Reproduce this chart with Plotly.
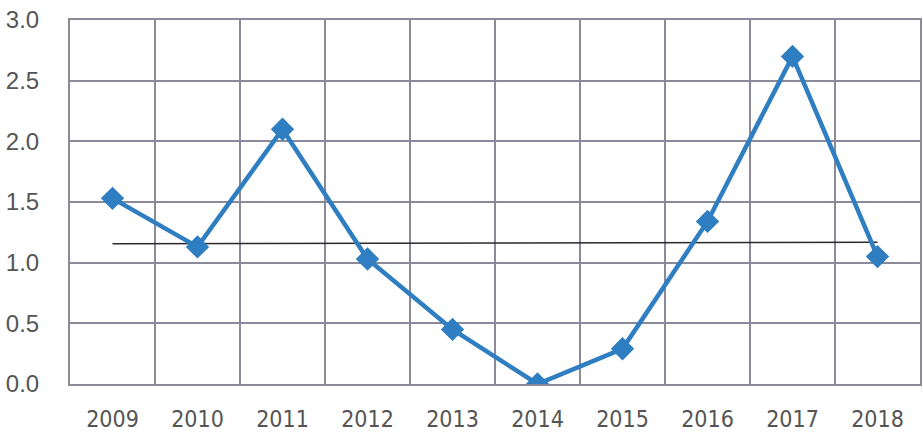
import numpy as np
import plotly.graph_objects as go

years = ["2009", "2010", "2011", "2012", "2013", "2014", "2015", "2016", "2017", "2018"]
values = [1.53, 1.13, 2.10, 1.03, 0.45, 0.0, 0.29, 1.34, 2.70, 1.05]
y_ticks = [0.0, 0.5, 1.0, 1.5, 2.0, 2.5, 3.0]
y_tick_labels = ["0.0", "0.5", "1.0", "1.5", "2.0", "2.5", "3.0"]

x = list(range(len(years)))
coef = np.polyfit(x, values, 1)
trend = [coef[0] * xi + coef[1] for xi in x]

grid = "#8a8a98"
fig = go.Figure()
fig.add_trace(go.Scatter(x=x, y=trend, mode="lines",
                         line=dict(color="#2a2a2a", width=1.5), hoverinfo="skip"))
fig.add_trace(go.Scatter(x=x, y=values, mode="lines+markers",
                         line=dict(color="#2f7ec2", width=4.5),
                         marker=dict(symbol="diamond", size=18, color="#2f7ec2")))

fig.update_layout(
    width=923, height=438,
    margin=dict(l=70, r=1, t=20, b=54),
    plot_bgcolor="white", paper_bgcolor="white",
    showlegend=False,
    xaxis=dict(range=[-0.5, 9.5], tickvals=x, ticktext=years, showgrid=False,
               zeroline=False, showline=True, mirror=True, linecolor=grid, linewidth=2,
               ticks="", ticklabelstandoff=13,
               tickfont=dict(family="DejaVu Sans Condensed, Liberation Sans, sans-serif",
                             size=23, color="#555555"),
               minor=dict(tick0=0.5, dtick=1, showgrid=True, gridcolor=grid, gridwidth=2)),
    yaxis=dict(range=[0, 3.0], tickvals=y_ticks, ticktext=y_tick_labels,
               showgrid=True, gridcolor=grid, gridwidth=2, zeroline=False,
               showline=True, mirror=True, linecolor=grid, linewidth=2,
               ticks="", ticklabelstandoff=24,
               tickfont=dict(family="Liberation Sans", size=24, color="#555555")),
)
fig.write_html("out.html")
